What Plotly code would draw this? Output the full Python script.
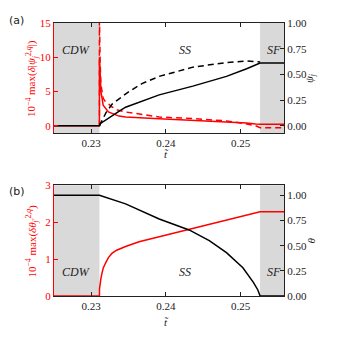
import plotly.graph_objects as go
from plotly.subplots import make_subplots

# regime boundaries (t tilde)
t_min, t_max = 0.225, 0.2558
t_cdw = 0.2311
t_sf = 0.2526

# panel (a): psi_j order parameter (right axis)
t_psi = [0.225, 0.2311, 0.2312, 0.2316, 0.2323, 0.2335, 0.2346, 0.2391, 0.2436, 0.2481, 0.2508, 0.2520, 0.2526, 0.2558]
psi_solid = [0.0, 0.0, 0.02, 0.04, 0.07, 0.13, 0.18, 0.30, 0.385, 0.48, 0.555, 0.595, 0.61, 0.61]
t_psi_d = [0.2311, 0.2313, 0.2315, 0.2320, 0.2328, 0.2340, 0.2350, 0.2368, 0.2391, 0.2436, 0.2481, 0.2508, 0.2526]
psi_dash = [0.0, 0.03, 0.06, 0.13, 0.21, 0.28, 0.33, 0.41, 0.48, 0.57, 0.615, 0.63, 0.62]

# panel (a): 10^-4 max(delta|psi|) (left axis)
t_dpsi = [0.225, 0.2311, 0.2311, 0.2312, 0.2313, 0.2316, 0.2323, 0.2337, 0.2346, 0.2391, 0.2436, 0.2481,
          0.2508, 0.2520, 0.2526, 0.2558]
dpsi_solid = [0.0, 0.0, 10.0, 7.0, 5.0, 3.0, 2.0, 1.4, 1.27, 1.03, 0.8, 0.55, 0.4, 0.25, 0.2, 0.2]
t_dpsi_d = [0.2311, 0.2311, 0.2312, 0.2313, 0.2316, 0.2319, 0.2322, 0.2327, 0.2335, 0.2346, 0.2391, 0.2436,
            0.2481, 0.2508, 0.2520, 0.2526, 0.2558]
dpsi_dash = [0.0, 16.0, 9.0, 6.0, 4.0, 3.5, 3.3, 2.8, 2.3, 2.0, 1.27, 1.03, 0.7, 0.25, 0.0, -0.3, -0.3]

# panel (b): theta (right axis) and 10^-4 max(delta theta) (left axis)
t_theta = [0.225, 0.2311, 0.2346, 0.2391, 0.2431, 0.2458, 0.2481, 0.2503, 0.2517, 0.2523, 0.2526, 0.2558]
theta = [1.0, 1.0, 0.915, 0.765, 0.656, 0.55, 0.43, 0.28, 0.135, 0.06, 0.0, 0.0]
t_dtheta = [0.225, 0.2311, 0.23111, 0.23115, 0.2312, 0.2313, 0.2314, 0.2316, 0.2319, 0.2323, 0.2328,
            0.2334, 0.2346, 0.2364, 0.2391, 0.2431, 0.2481, 0.2526, 0.2558]
dtheta = [0.0, 0.0, 0.2, 0.3, 0.38, 0.48, 0.58, 0.75, 0.886, 1.04, 1.16, 1.24, 1.34, 1.47, 1.607, 1.81,
          2.06, 2.28, 2.28]

RED = "#ff0000"
INK = "#222222"
FONT = "Liberation Serif"

fig = make_subplots(rows=2, cols=1, specs=[[{"secondary_y": True}], [{"secondary_y": True}]])

fig.add_trace(go.Scatter(x=t_dpsi, y=dpsi_solid, mode="lines", line=dict(color=RED, width=1.5)),
              row=1, col=1, secondary_y=False)
fig.add_trace(go.Scatter(x=t_dpsi_d, y=dpsi_dash, mode="lines",
                         line=dict(color=RED, width=1.5, dash="6px,4px")),
              row=1, col=1, secondary_y=False)
fig.add_trace(go.Scatter(x=t_psi, y=psi_solid, mode="lines", line=dict(color="black", width=1.5)),
              row=1, col=1, secondary_y=True)
fig.add_trace(go.Scatter(x=t_psi_d, y=psi_dash, mode="lines",
                         line=dict(color="black", width=1.5, dash="6px,4px")),
              row=1, col=1, secondary_y=True)

fig.add_trace(go.Scatter(x=t_dtheta, y=dtheta, mode="lines", line=dict(color=RED, width=1.5)),
              row=2, col=1, secondary_y=False)
fig.add_trace(go.Scatter(x=t_theta, y=theta, mode="lines", line=dict(color="black", width=1.5)),
              row=2, col=1, secondary_y=True)

# shaded CDW / SF regions
for xr, yr in [("x", "y domain"), ("x2", "y3 domain")]:
    for a, b in [(t_min, t_cdw), (t_sf, t_max)]:
        fig.add_shape(type="rect", xref=xr, yref=yr, x0=a, x1=b, y0=0, y1=1,
                      fillcolor="#d9d9d9", line_width=0, layer="below")

xdom = [0.157, 0.828]
xcommon = dict(range=[t_min, t_max], tickvals=[0.23, 0.24, 0.25], ticktext=["0.23", "0.24", "0.25"],
               showline=True, linecolor=INK, linewidth=1, mirror="ticks", ticks="inside", ticklen=4,
               tickcolor=INK, showgrid=False, zeroline=False, domain=xdom, automargin=False,
               tickfont=dict(size=11))
ycommon = dict(showgrid=False, zeroline=False, showline=True, linewidth=1, ticks="inside", ticklen=4,
               automargin=False)

fig.update_layout(
    width=343, height=343, showlegend=False,
    margin=dict(l=0, r=0, t=0, b=0),
    paper_bgcolor="white", plot_bgcolor="white",
    font=dict(family=FONT, size=11, color=INK),
    xaxis=xcommon,
    xaxis2=xcommon,
    yaxis=dict(ycommon, domain=[0.612, 0.933], range=[-1.08, 15], tickvals=[0, 5, 10, 15],
               linecolor=RED, tickcolor=RED, tickfont=dict(color=RED, size=11)),
    yaxis2=dict(ycommon, range=[-0.072, 1.0], tickvals=[0, 0.25, 0.5, 0.75, 1.0], tickformat=".2f",
                linecolor=INK, tickcolor=INK, side="right"),
    yaxis3=dict(ycommon, domain=[0.137, 0.460], range=[0, 3], tickvals=[0, 1, 2, 3],
                linecolor=RED, tickcolor=RED, tickfont=dict(color=RED, size=11)),
    yaxis4=dict(ycommon, range=[0, 1.1], tickvals=[0, 0.25, 0.5, 0.75, 1.0], tickformat=".2f",
                linecolor=INK, tickcolor=INK, side="right"),
)

# axis titles and panel labels, placed relative to each panel
panels = [("x domain", "y domain", "(a)",
           "10<sup>−4</sup> max(<i>δ</i>|<i>ψ</i><sub><i>j</i></sub><sup>2,<i>q</i></sup>|)", "<i>ψ<sub>j</sub></i>",
           1.10, -0.26, 0.84),
          ("x2 domain", "y3 domain", "(b)",
           "10<sup>−4</sup> max(<i>δθ</i><sub><i>j′</i></sub><sup>2,<i>q</i></sup>)", "<i>θ</i>",
           1.02, -0.31, 0.135)]
for xr, yr, tag, ltitle, rtitle, ytag, ytt, yreg in panels:
    fig.add_annotation(x=-0.204, y=ytag, xref=xr, yref=yr, text=tag, showarrow=False,
                       font=dict(size=11, color=INK, family="DejaVu Sans"))
    fig.add_annotation(x=-0.139, y=0.5, xref=xr, yref=yr, text=ltitle, textangle=-90, showarrow=False,
                       font=dict(size=11, color=RED, family=FONT))
    fig.add_annotation(x=1.152, y=0.5, xref=xr, yref=yr, text=rtitle, textangle=-90, showarrow=False,
                       font=dict(size=11, color=INK, family=FONT))
    fig.add_annotation(x=0.491, y=ytt, xref=xr, yref=yr, text="<i>t̃</i>", showarrow=False,
                       font=dict(size=11, color=INK, family=FONT))
    xd = xr.replace(" domain", "")
    for txt, tx in [("CDW", 0.2279), ("SS", 0.2425), ("SF", 0.25446)]:
        fig.add_annotation(x=tx, y=yreg, xref=xd, yref=yr, text=f"<i>{txt}</i>", showarrow=False,
                           font=dict(size=12, color=INK, family=FONT))

# drop the browser's default page margin so the figure sits at the window's corner
fig.write_html("out.html", config={"displayModeBar": False},
               post_script="document.body.style.margin='0';")
